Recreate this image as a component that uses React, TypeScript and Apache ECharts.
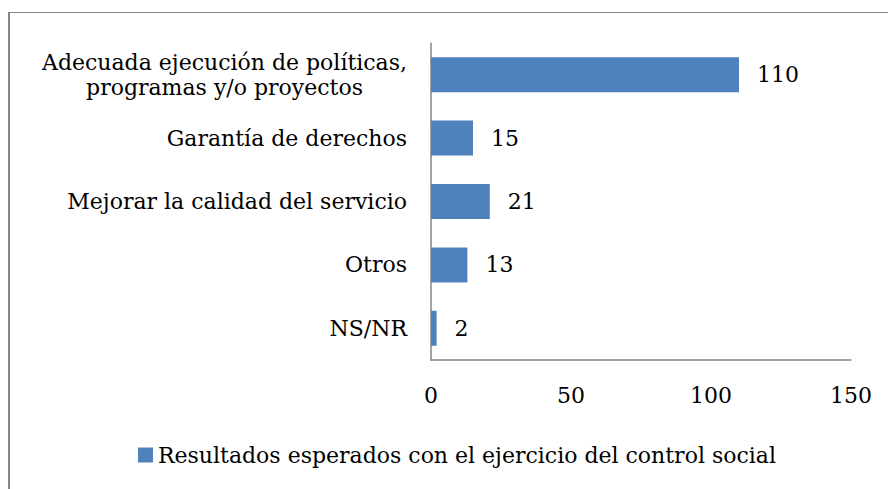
import React, { useEffect, useRef } from "react";
import * as echarts from "echarts";

const categories = [
  "Adecuada ejecución de políticas,\nprogramas y/o proyectos",
  "Garantía de derechos",
  "Mejorar la calidad del servicio",
  "Otros",
  "NS/NR",
];
const values = [110, 15, 21, 13, 2];
const seriesName = "Resultados esperados con el ejercicio del control social";
const xTicks = { min: 0, max: 150, interval: 50 };

const FONT = "DejaVu Serif";
const FS = 22;

export default function App() {
  const ref = useRef<HTMLDivElement>(null);
  useEffect(() => {
    if (!ref.current) return;
    const chart = echarts.init(ref.current, undefined, { renderer: "svg" });
    chart.setOption({
      animation: false,
      backgroundColor: "#ffffff",
      textStyle: { fontFamily: FONT },
      graphic: [
        {
          type: "line",
          shape: { x1: 9, y1: 12, x2: 9, y2: 489 },
          style: { stroke: "#868686", lineWidth: 2 },
        },
        {
          type: "line",
          shape: { x1: 8, y1: 12.5, x2: 888, y2: 12.5 },
          style: { stroke: "#868686", lineWidth: 1 },
        },
      ],
      grid: { left: 431, right: 37, top: 43, bottom: 129, containLabel: false },
      legend: {
        left: 138,
        top: 444,
        padding: 0,
        icon: "rect",
        itemWidth: 15,
        itemHeight: 15,
        itemGap: 7,
        textStyle: { fontFamily: FONT, fontSize: FS, color: "#000" },
        data: [seriesName],
      },
      xAxis: {
        type: "value",
        min: xTicks.min,
        max: xTicks.max,
        interval: xTicks.interval,
        axisLine: { show: true, lineStyle: { color: "#868686", width: 1.5 } },
        axisTick: { show: false },
        splitLine: { show: false },
        axisLabel: { fontFamily: FONT, fontSize: FS, color: "#000", margin: 24 },
      },
      yAxis: {
        type: "category",
        inverse: true,
        data: categories,
        axisLine: { show: true, lineStyle: { color: "#868686", width: 1.5 } },
        axisTick: { show: false },
        axisLabel: {
          fontFamily: FONT,
          fontSize: FS,
          color: "#000",
          margin: 24,
          lineHeight: 25,
          formatter: (v: string) =>
            v
              .split("\n")
              .map((l) => "{c|" + l + "}")
              .join("\n"),
          rich: {
            c: { fontFamily: FONT, fontSize: FS, color: "#000", align: "center", lineHeight: 25 },
          },
        },
      },
      series: [
        {
          name: seriesName,
          type: "bar",
          data: values,
          barWidth: 35,
          itemStyle: { color: "#4F81BD" },
          label: {
            show: true,
            position: "right",
            distance: 18,
            fontFamily: FONT,
            fontSize: FS,
            color: "#000",
          },
        },
      ],
    });
    return () => chart.dispose();
  }, []);
  return (
    <div
      ref={ref}
      style={{ position: "fixed", left: 0, top: 0, width: 888, height: 489 }}
    />
  );
}
